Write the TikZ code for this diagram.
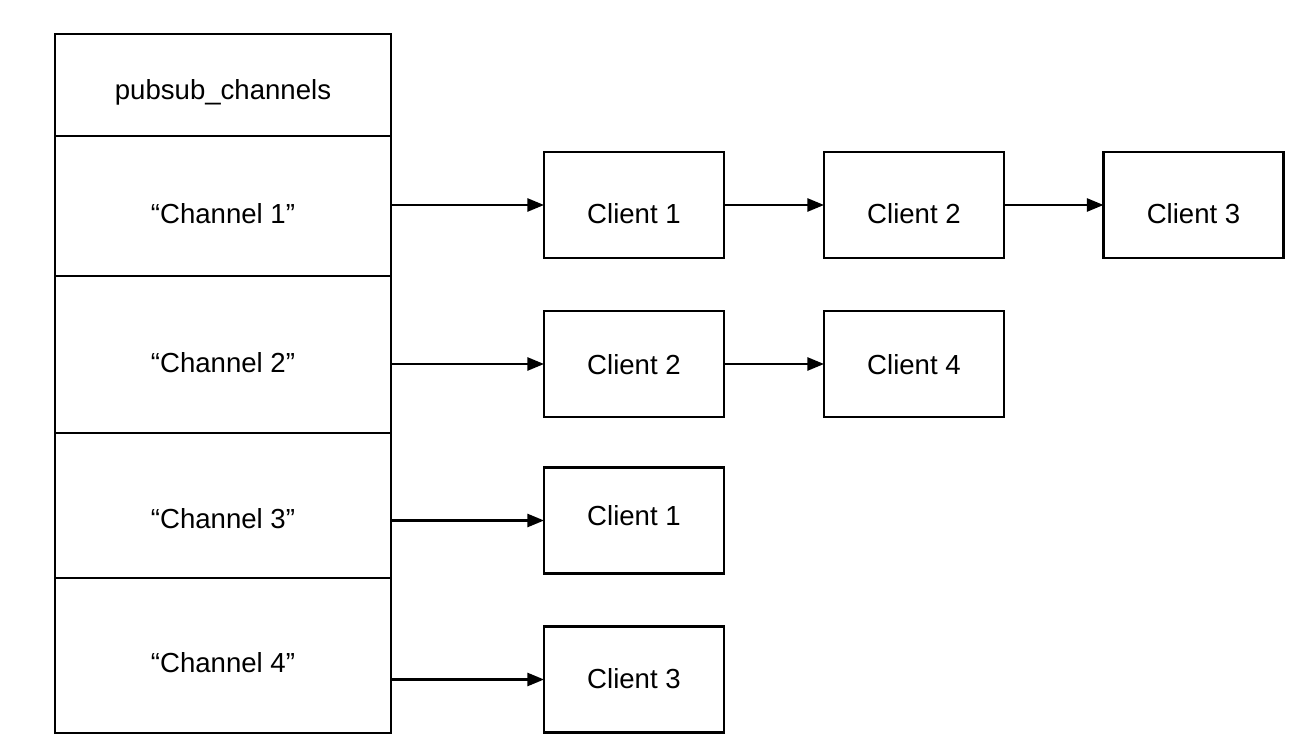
\documentclass[tikz,border=0pt]{standalone}
\usepackage{fontspec}
\setmainfont{Liberation Sans}
\usetikzlibrary{arrows.meta,calc}
\newdimen\pxu
\pxu=0.02cm
\tikzset{
  cell/.style={draw=black, line width=1.25pt, minimum width=336\pxu, inner sep=0pt, outer sep=0pt},
  cbox/.style={draw=black, line width=1.25pt, minimum width=180\pxu, minimum height=106\pxu, inner sep=0pt, outer sep=0pt},
  txt/.style={font=\fontsize{15.7pt}{18pt}\selectfont, inner sep=0pt},
  arr/.style={line width=1.25pt, -{Triangle[length=9.5pt,width=7.5pt]}},
}
\begin{document}
\begin{tikzpicture}[x=0.02cm,y=-0.02cm]
\useasboundingbox[fill=white] (0,0) rectangle (1304,743);
% left table
\node[cell, minimum height=102\pxu] (head) at (223,85) {};
\node[cell, minimum height=140\pxu] (ch1) at (223,206) {};
\node[cell, minimum height=157\pxu] (ch2) at (223,354.5) {};
\node[cell, minimum height=145\pxu] (ch3) at (223,505.5) {};
\node[cell, minimum height=155\pxu] (ch4) at (223,655.5) {};
\node[txt] (theadtxt) at (223,92) {pubsub\_channels};
\node[txt] (tch1) at (223,214) {“Channel 1”};
\node[txt] (tch2) at (223,363) {“Channel 2”};
\node[txt] (tch3) at (223,519) {“Channel 3”};
\node[txt] (tch4) at (223,663) {“Channel 4”};
% client boxes
\node[cbox] (c11) at (634,205) {};
\node[cbox] (c12) at (914,205) {};
\node[cbox] (c13) at (1193.5,205) {};
\node[cbox] (c21) at (634,364) {};
\node[cbox] (c22) at (914,364) {};
\node[cbox] (c31) at (634,520.5) {};
\node[cbox] (c41) at (634,679.5) {};
\node[txt] (t11) at ($(c11)+(0,9)$) {Client 1};
\node[txt] (t12) at ($(c12)+(0,9)$) {Client 2};
\node[txt] (t13) at ($(c13)+(0,9)$) {Client 3};
\node[txt] (t21) at ($(c21)+(0,1)$) {Client 2};
\node[txt] (t22) at ($(c22)+(0,1)$) {Client 4};
\node[txt] (t31) at ($(c31)+(0,-5)$) {Client 1};
\node[txt] (t41) at ($(c41)+(0,-1)$) {Client 3};
% arrows
\draw[arr] (ch1.east |- c11.west) -- (c11.west);
\draw[arr] (c11.east) -- (c12.west);
\draw[arr] (c12.east) -- (c13.west);
\draw[arr] (ch2.east |- c21.west) -- (c21.west);
\draw[arr] (c21.east) -- (c22.west);
\draw[arr] (ch3.east |- c31.west) -- (c31.west);
\draw[arr] (ch4.east |- c41.west) -- (c41.west);
\end{tikzpicture}
\end{document}
